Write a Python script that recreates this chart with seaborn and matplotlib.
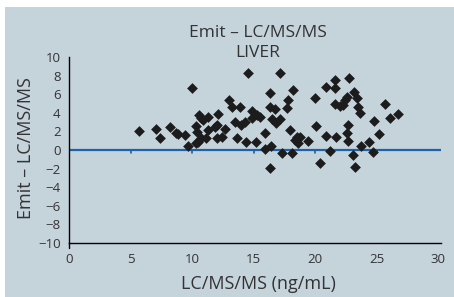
import matplotlib
matplotlib.use('Agg')
import matplotlib.pyplot as plt
import seaborn as sns
import pandas as pd
from matplotlib.patches import Rectangle

# LC/MS/MS concentration (ng/mL) and Emit minus LC/MS/MS difference
lcms = [5.7, 7.07, 7.4, 8.2, 8.7, 8.87, 9.4, 9.7, 9.97, 10.3, 10.3, 10.5, 10.4,
        10.56, 10.75, 10.9, 11.1, 11.3, 11.3, 11.85, 12.04, 12.1, 12.04, 12.4,
        12.66, 12.98, 13.2, 13.47, 13.65, 13.85, 14.0, 14.3, 14.4, 14.5, 14.86,
        14.9, 15.2, 15.27, 15.5, 15.9, 15.9, 16.3, 16.35, 16.5, 16.7, 16.8,
        17.15, 17.15, 16.4, 17.7, 17.8, 17.96, 18.2, 18.36, 18.5, 18.6, 18.77,
        19.4, 19.97, 20.06, 20.86, 20.9, 21.6, 21.6, 21.7, 21.6, 21.99, 22.26,
        22.44, 22.6, 22.66, 22.6, 22.7, 22.74, 23.15, 23.4, 23.47, 23.6, 23.7,
        24.4, 24.8, 25.2, 25.7, 26.1, 26.75, 10.7,
        16.3, 17.3, 18.1, 20.4, 21.2, 23.06, 23.2, 24.7]
diff = [2.0, 2.26, 1.3, 2.5, 1.86, 1.72, 1.6, 0.46, 6.63, 2.58, 0.72, 0.9, 1.97,
        3.76, 3.48, 3.2, 1.25, 3.5, 2.15, 2.44, 2.69, 3.84, 1.33, 1.43,
        2.26, 5.38, 4.59, 3.05, 1.33, 4.59, 2.69, 3.05, 0.9, 8.24, 4.23,
        3.4, 0.9, 3.76, 3.5, 1.8, 0.07, 6.1, 4.66, 3.3, 4.37, 2.94,
        8.24, 3.3, 0.46, 4.48, 5.38, 2.15, 6.5, 1.07, 1.36, 0.72, 1.43,
        1.0, 5.62, 2.58, 6.74, 1.5, 6.63, 7.52, 1.36, 5.0, 4.73, 4.84,
        5.38, 5.73, 2.69, 1.86, 0.97, 7.77, 6.27, 5.62, 4.66, 3.94, 0.46,
        0.9, 3.15, 1.72, 5.0, 3.48, 3.84, 1.3,
        -1.97, -0.3, -0.33, -1.36, -0.15, -0.54, -1.8, -0.25]

x_ticks = [0, 5, 10, 15, 20, 25, 30]
y_ticks = [-10, -8, -6, -4, -2, 0, 2, 4, 6, 8, 10]

BG = '#c5d3db'
LINE_BLUE = '#1f62a8'
TXT = '#333333'

df = pd.DataFrame({'lcms': lcms, 'diff': diff})

sns.set_style('white')
plt.rcParams['font.family'] = ['Open Sans', 'DejaVu Sans']

fig = plt.figure(figsize=(4.54, 2.97), dpi=100)
fig.patch.set_facecolor('white')
fig.patches.append(Rectangle((5 / 454, 0), 1, 1 - 7 / 297, transform=fig.transFigure,
                             facecolor=BG, edgecolor='none', zorder=-10))
ax = fig.add_axes([0.152, 0.182, 0.819, 0.626])
ax.set_facecolor(BG)

sns.scatterplot(data=df, x='lcms', y='diff', marker='D', s=30, color='#1c1c1c',
                linewidth=0, ax=ax, zorder=3)

# zero line with small downward ticks
ax.axhline(0, color=LINE_BLUE, lw=1.6, zorder=2)
for xv in x_ticks[1:-1]:
    ax.plot([xv, xv], [0, -0.35], color=LINE_BLUE, lw=1.2, zorder=2)

ax.set_xlim(0, 30.2)
ax.set_ylim(-10, 10)
ax.set_xticks(x_ticks)
ax.set_yticks(y_ticks)
ax.tick_params(axis='x', length=0, pad=7, labelsize=9.5, labelcolor=TXT)
ax.tick_params(axis='y', length=4, width=1, pad=2, labelsize=9.5, labelcolor=TXT,
               color='black', direction='out')
# short tick below the origin
ax.plot([0, 0], [-10, -10.5], color='black', lw=1, clip_on=False)

for side in ['top', 'right']:
    ax.spines[side].set_visible(False)
for side in ['left', 'bottom']:
    ax.spines[side].set_color('black')
    ax.spines[side].set_linewidth(1)

ax.set_xlabel('')
ax.set_ylabel('')
fig.text(0.57, 0.045, 'LC/MS/MS (ng/mL)', fontsize=13, color=TXT,
         ha='center', va='center')
fig.text(0.058, 0.5, 'Emit \u2013 LC/MS/MS', fontsize=13, color=TXT,
         ha='center', va='center', rotation=90)
fig.text(0.568, 0.889, 'Emit \u2013 LC/MS/MS', fontsize=12.5, color=TXT,
         ha='center', va='center')
fig.text(0.568, 0.822, 'LIVER', fontsize=12.5, color=TXT,
         ha='center', va='center')

fig.savefig('out.png', dpi=100, facecolor=fig.get_facecolor())
